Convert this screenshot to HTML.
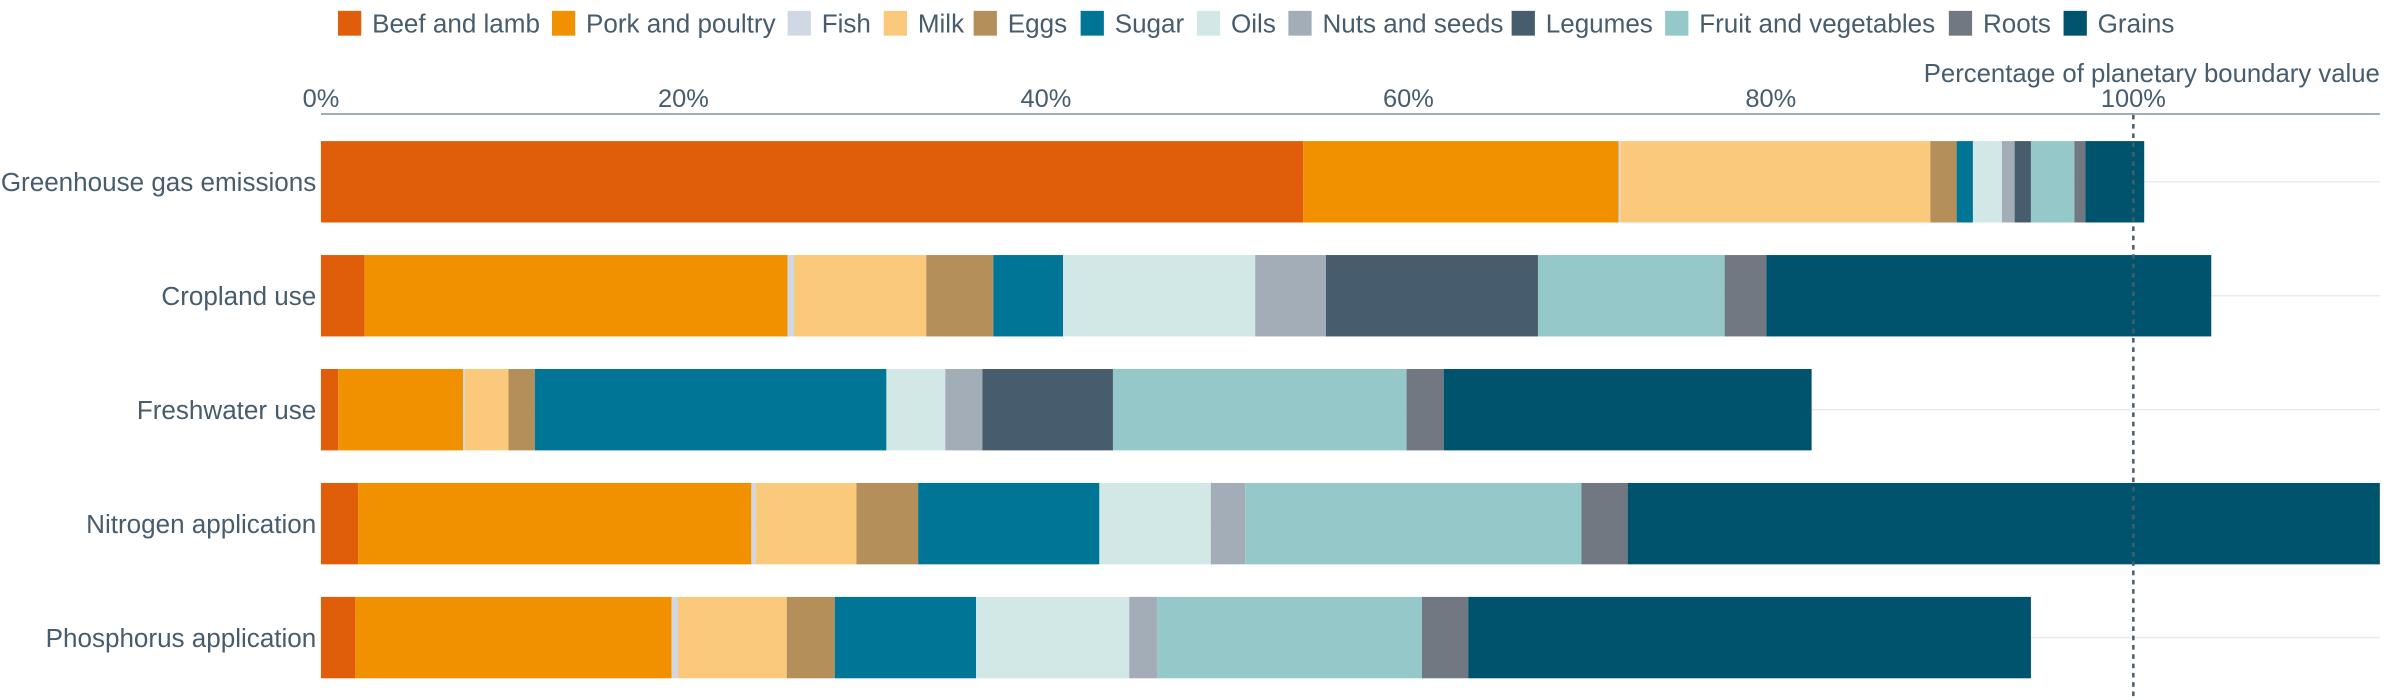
<!DOCTYPE html>
<html><head><meta charset="utf-8"><style>
html,body{margin:0;padding:0;background:#fff;}
svg{display:block;font-family:"Liberation Sans",Arial,sans-serif;}
</style></head><body>
<svg id="chart" width="2400" height="700" viewBox="0 0 1548 451.5" xmlns="http://www.w3.org/2000/svg">
<g id="legend"></g>
<text x="1535" y="53" text-anchor="end" font-size="16.6" fill="#475c6c">Percentage of planetary boundary value</text>
<g id="grid"></g>
<g id="xaxis"></g>
<g id="bars"></g>
<g id="ylabels"></g>
<line id="bline" y1="74" y2="456" stroke="#475c6c" stroke-width="1.6" stroke-dasharray="3,3"/>
</svg>
<script>
const seriesNames=["Beef and lamb","Pork and poultry","Fish","Milk","Eggs","Sugar","Oils","Nuts and seeds","Legumes","Fruit and vegetables","Roots","Grains"];
const seriesColors=["#e05e0a","#f29100","#cfd8e3","#fbc97c","#b58f59","#007596","#d2e8e6","#a2adb8","#475c6c","#95c8c8","#717882","#00536c"];
const categories=["Greenhouse gas emissions","Cropland use","Freshwater use","Nitrogen application","Phosphorus application"];
const ghg=[54.2,17.4,0.1,17.1,1.45,0.9,1.6,0.7,0.9,2.4,0.6,3.25];
const cropland=[2.4,23.35,0.35,7.3,3.7,3.85,10.6,3.9,11.7,10.3,2.3,24.55];
const freshwater=[0.95,6.9,0.1,2.4,1.45,19.4,3.25,2.05,7.2,16.2,2.05,20.3];
const nitrogen=[2.05,21.7,0.25,5.55,3.4,10.0,6.15,1.9,0,18.55,2.55,45];
const phosphorus=[1.9,17.45,0.35,6.0,2.65,7.8,8.45,1.55,0,14.6,2.55,31.05];
const tickValues=[0,20,40,60,80,100];
const tickLabels=["0%","20%","40%","60%","80%","100%"];
const boundary=100;
const values=[ghg,cropland,freshwater,nitrogen,phosphorus];

const NS="http://www.w3.org/2000/svg";
const X0=207,X100=1376,XMAX=1535;
const x=v=>Math.min(XMAX,X0+(X100-X0)*v/100);
const bandTop=91,bandStep=73.5,barH=52.5;
const y=i=>bandTop+i*bandStep;
function mk(tag,attrs,parent){const e=document.createElementNS(NS,tag);for(const k in attrs)e.setAttribute(k,attrs[k]);parent.appendChild(e);return e;}

const legendX=[218,356,508,570,628,697,772,831,975,1074,1257,1331];
const lg=document.getElementById('legend');
seriesNames.forEach((n,i)=>{
  const g=mk('g',{},lg);
  
  
  mk('rect',{x:legendX[i],y:7,width:15,height:16,fill:seriesColors[i]},g);
  const t=mk('text',{x:legendX[i]+22,y:21,'font-size':16.8,fill:'#475c6c'},g);
  t.textContent=n;
});

const ax=document.getElementById('xaxis');
const al=mk('line',{x1:X0,x2:XMAX,y1:73.5,y2:73.5,stroke:'#a2adb8','stroke-width':1.3},ax);


tickValues.forEach((v,i)=>{
  const t=mk('text',{x:x(v),y:69,'text-anchor':'middle','font-size':16.4,fill:'#475c6c'},ax);
  
  
  t.textContent=tickLabels[i];
});

const gr=document.getElementById('grid'),bg=document.getElementById('bars'),yl=document.getElementById('ylabels');
categories.forEach((c,i)=>{
  const gl=mk('line',{x1:X0,x2:XMAX,y1:y(i)+barH/2,y2:y(i)+barH/2,stroke:'#e8ecf0','stroke-width':1},gr);
  
  
  let acc=0;
  values[i].forEach((v,j)=>{
    if(v<=0)return;
    const x1=x(acc),x2=x(acc+v);acc+=v;
    if(x2<=x1)return;
    const r=mk('rect',{x:x1,y:y(i),width:x2-x1,height:barH,fill:seriesColors[j]},bg);
    
    
  });
  const t=mk('text',{x:204,y:y(i)+barH/2+6,'text-anchor':'end','font-size':16.8,fill:'#475c6c'},yl);
  
  
  t.textContent=c;
});
const bl=document.getElementById('bline');
bl.setAttribute('x1',x(boundary));bl.setAttribute('x2',x(boundary));
</script>
</body></html>
